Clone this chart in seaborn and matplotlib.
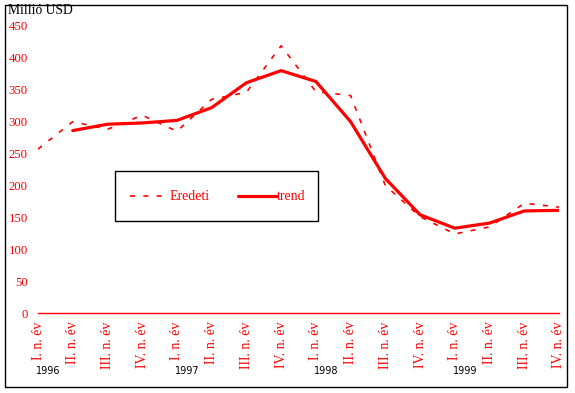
import matplotlib
matplotlib.use("Agg")
import matplotlib.pyplot as plt
import matplotlib.patches as mpatches
from matplotlib.lines import Line2D
import seaborn as sns
import numpy as np
import pandas as pd

quarters = ["I. n. év", "II. n. év", "III. n. év", "IV. n. év"] * 4
years = ["1996", "1997", "1998", "1999"]
eredeti = [257, 300, 288, 310, 285, 335, 346, 419, 347, 341, 200, 151, 124, 135, 172, 166]
trend = [None, 286, 296, 298, 302, 322, 361, 380, 363, 300, 211, 154, 133, 141, 160, 161]
yticks = [0, 50, 100, 150, 200, 250, 300, 350, 400, 450]
series_names = ["Eredeti", "trend"]

sns.set_theme(style="white")
plt.rcParams["font.family"] = ["Liberation Serif", "DejaVu Serif"]

RED = "#ff0000"
W, H = 575, 393

idx = np.arange(len(quarters))
df_e = pd.DataFrame({"x": idx, "y": eredeti})
df_t = pd.DataFrame({"x": idx, "y": trend}).dropna()

fig = plt.figure(figsize=(5.75, 3.93), dpi=100)
ax = fig.add_axes([38 / W, (H - 313) / H, 521 / W, 287 / H])

dash = (0, (3, 5))
sns.lineplot(data=df_e, x="x", y="y", ax=ax, color=RED, lw=1.2, linestyle=dash)
sns.lineplot(data=df_t, x="x", y="y", ax=ax, color=RED, lw=2.3)

ax.set_xlim(0, len(quarters) - 1)
ax.set_ylim(0, 450)
ax.set_xlabel("")
ax.set_ylabel("")
for s in ["top", "right", "left"]:
    ax.spines[s].set_visible(False)
ax.spines["bottom"].set_color(RED)
ax.spines["bottom"].set_linewidth(1.0)
ax.set_facecolor("none")

ax.set_xticks(idx)
ax.set_xticklabels(quarters, rotation=90, color=RED, fontsize=10)
ax.set_yticks(yticks)
ax.set_yticklabels([str(v) for v in yticks], color=RED, fontsize=9.2)
ax.tick_params(axis="x", direction="out", length=3, width=1, color=RED, pad=3)
ax.tick_params(axis="y", length=0, pad=7.5)

for i, yr in enumerate(years):
    ax.text(i * 4 + 0.3, -0.203, yr, transform=ax.get_xaxis_transform(),
            ha="center", va="center", fontsize=7, family="DejaVu Sans", color="black")

fig.text(8 / W, 1 - 4 / H, "Millió USD", ha="left", va="top", fontsize=9.8, color="black")

# legend box, drawn by hand in pixel positions of the figure
def fx(px):
    return px / W

def fy(py):
    return 1 - py / H

fig.patches.append(mpatches.Rectangle((fx(115), fy(221)), 203 / W, 50 / H,
                                      transform=fig.transFigure, facecolor="white",
                                      edgecolor="black", lw=1.0, zorder=5))
ly = fy(196)
fig.add_artist(Line2D([fx(130), fx(169)], [ly, ly], transform=fig.transFigure,
                      color=RED, lw=1.2, linestyle=dash, zorder=6))
fig.text(fx(170), ly, series_names[0], ha="left", va="center", fontsize=10, color=RED, zorder=6)
fig.add_artist(Line2D([fx(238), fx(277)], [ly, ly], transform=fig.transFigure,
                      color=RED, lw=2.3, zorder=6))
fig.text(fx(277), ly, series_names[1], ha="left", va="center", fontsize=10, color=RED, zorder=6)

fig.patches.append(mpatches.Rectangle((fx(5), fy(387)), 562 / W, 382 / H,
                                      transform=fig.transFigure, fill=False,
                                      edgecolor="black", lw=1.0))

fig.savefig("out.png", dpi=100)
